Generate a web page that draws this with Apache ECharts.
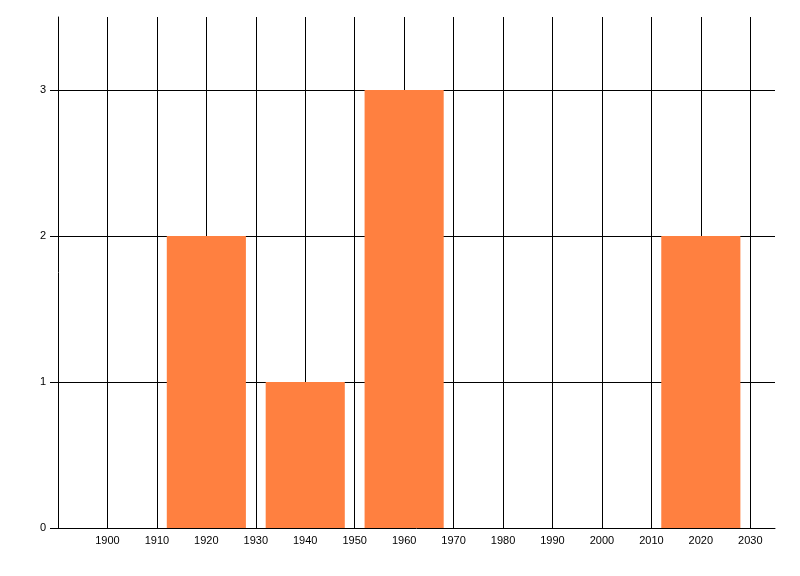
<!DOCTYPE html>
<html>
<head>
<meta charset="utf-8">
<script src="https://cdn.jsdelivr.net/npm/echarts@6/dist/echarts.min.js"></script>
<style>
  html, body { margin: 0; padding: 0; background: #fff; }
  #chart { width: 800px; height: 576px; }
</style>
</head>
<body>
<div id="chart"></div>
<script>
// bin centres (years) and counts
var years = [1920, 1940, 1960, 2020]
var counts = [2, 1, 3, 2]
var binHalfWidth = 8
var yTicks = [0, 1, 2, 3]

var chart = echarts.init(document.getElementById('chart'))

var data = years.map(function (y, i) { return [y, counts[i]] })

var option = {
    animation: false,
    grid: {left: 58, right: 25, top: 17, bottom: 48},
    xAxis: {
        type: 'value',
        min: 1890,
        max: 2035,
        interval: 10,
        axisLine: {lineStyle: {color: '#000', width: 1}},
        axisTick: {show: false},
        axisLabel: {
            color: '#000',
            fontFamily: 'Liberation Sans',
            fontSize: 11,
            margin: 7,
            formatter: function (v) { return (v % 10 === 0 && v > 1890) ? String(v) : '' }
        },
        splitLine: {show: true, showMinLine: false, showMaxLine: false, lineStyle: {color: '#000', width: 1}}
    },
    yAxis: {
        type: 'value',
        min: 0,
        max: 3.5,
        interval: 1,
        axisLine: {show: true, lineStyle: {color: '#000', width: 1}},
        // custom ticks so nothing is drawn at the 3.5 top edge
        axisTick: {show: true, length: 8, customValues: yTicks, lineStyle: {color: '#000'}},
        axisLabel: {
            color: '#000',
            fontFamily: 'Liberation Sans',
            fontSize: 11,
            margin: 12,
            formatter: function (v) { return Number.isInteger(v) ? String(v) : '' }
        },
        splitLine: {show: true, showMinLine: false, showMaxLine: true, lineStyle: {color: '#000', width: 1}}
    },
    series: [{
        type: 'custom',
        data: data,
        z: 1,
        renderItem: function (params, api) {
            var x = api.value(0)
            var v = api.value(1)
            var p0 = api.coord([x - binHalfWidth, v])
            var p1 = api.coord([x + binHalfWidth, 0])
            return {
                type: 'rect',
                shape: {x: p0[0], y: p0[1], width: p1[0] - p0[0], height: p1[1] - p0[1]},
                style: {fill: '#ff8040'}
            }
        }
    }]
}

chart.setOption(option)
</script>
</body>
</html>
